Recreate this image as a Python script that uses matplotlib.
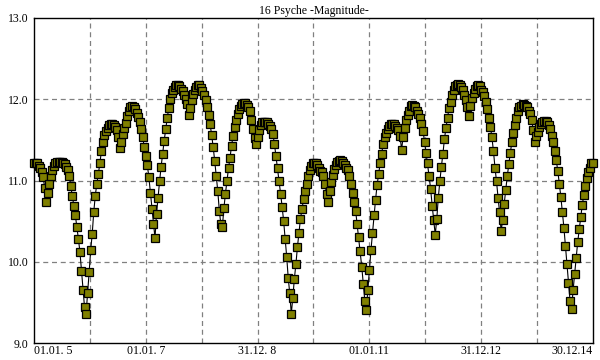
import numpy as np
import pandas as pd
import matplotlib
matplotlib.use("Agg")
import matplotlib.pyplot as plt
import matplotlib.dates as mdates

# magnitude of 16 Psyche, one reading every 10 days from 01.01.2005
mag = [
    11.22, 11.22, 11.21, 11.18, 11.15, 11.10, 11.04, 10.91, 10.74, 10.85,
    10.96, 11.05, 11.13, 11.18, 11.21, 11.23, 11.23, 11.23, 11.23, 11.21,
    11.20, 11.17, 11.13, 11.06, 10.93, 10.81, 10.69, 10.57, 10.43, 10.28,
    10.12, 9.89, 9.65, 9.44, 9.36, 9.61, 9.87, 10.14, 10.34, 10.61,
    10.81, 10.96, 11.08, 11.21, 11.36, 11.48, 11.56, 11.61, 11.65, 11.68,
    11.69, 11.69, 11.68, 11.66, 11.62, 11.53, 11.40, 11.47, 11.57, 11.65,
    11.71, 11.79, 11.86, 11.90, 11.92, 11.91, 11.88, 11.83, 11.78, 11.72,
    11.63, 11.53, 11.41, 11.30, 11.19, 11.04, 10.85, 10.65, 10.46, 10.29,
    10.59, 10.79, 10.99, 11.17, 11.33, 11.49, 11.63, 11.77, 11.89, 12.00,
    12.08, 12.12, 12.15, 12.17, 12.17, 12.16, 12.13, 12.10, 12.05, 12.00,
    11.94, 11.81, 11.89, 11.99, 12.07, 12.12, 12.15, 12.17, 12.17, 12.14,
    12.10, 12.05, 11.99, 11.90, 11.81, 11.69, 11.56, 11.41, 11.24, 11.05,
    10.87, 10.63, 10.46, 10.43, 10.66, 10.84, 11.00, 11.15, 11.28, 11.43,
    11.55, 11.66, 11.75, 11.82, 11.88, 11.92, 11.94, 11.95, 11.95, 11.93,
    11.90, 11.86, 11.75, 11.64, 11.52, 11.45, 11.54, 11.62, 11.68, 11.72,
    11.72, 11.72, 11.72, 11.70, 11.67, 11.63, 11.57, 11.45, 11.30, 11.15,
    11.00, 10.84, 10.68, 10.50, 10.28, 10.06, 9.80, 9.61, 9.36, 9.56,
    9.79, 9.97, 10.18, 10.36, 10.53, 10.65, 10.77, 10.87, 10.96, 11.06,
    11.13, 11.18, 11.21, 11.22, 11.22, 11.19, 11.15, 11.12, 11.10, 11.05,
    10.96, 10.84, 10.74, 10.87, 10.98, 11.07, 11.14, 11.19, 11.23, 11.24,
    11.25, 11.24, 11.22, 11.19, 11.16, 11.13, 11.05, 10.96, 10.85, 10.74,
    10.63, 10.46, 10.30, 10.13, 9.94, 9.73, 9.52, 9.41, 9.65, 9.90,
    10.14, 10.35, 10.57, 10.76, 10.94, 11.08, 11.21, 11.33, 11.45, 11.53,
    11.59, 11.63, 11.67, 11.69, 11.70, 11.69, 11.67, 11.65, 11.62, 11.55,
    11.38, 11.53, 11.65, 11.74, 11.81, 11.86, 11.92, 11.93, 11.92, 11.90,
    11.86, 11.82, 11.77, 11.69, 11.61, 11.48, 11.34, 11.21, 11.05, 10.89,
    10.69, 10.51, 10.33, 10.53, 10.79, 10.99, 11.17, 11.33, 11.51, 11.65,
    11.77, 11.89, 11.97, 12.05, 12.12, 12.16, 12.18, 12.19, 12.18, 12.15,
    12.11, 12.05, 11.99, 11.90, 11.79, 11.92, 12.02, 12.08, 12.13, 12.16,
    12.17, 12.16, 12.12, 12.09, 12.04, 11.97, 11.88, 11.77, 11.66, 11.53,
    11.36, 11.16, 10.99, 10.79, 10.61, 10.38, 10.51, 10.71, 10.88, 11.05,
    11.20, 11.34, 11.47, 11.58, 11.68, 11.77, 11.85, 11.90, 11.92, 11.94,
    11.93, 11.92, 11.90, 11.86, 11.82, 11.74, 11.62, 11.48, 11.55, 11.60,
    11.66, 11.69, 11.72, 11.73, 11.73, 11.72, 11.68, 11.63, 11.55, 11.47,
    11.36, 11.25, 11.12, 10.96, 10.80, 10.61, 10.42, 10.20, 9.97, 9.74,
    9.52, 9.42, 9.65, 9.85, 10.05, 10.24, 10.40, 10.55, 10.70, 10.82,
    10.93, 11.03, 11.10, 11.16, 11.21, 11.22,
]
dates = pd.date_range("2005-01-01", periods=len(mag), freq="10D")

start = pd.Timestamp("2005-01-01")
end = pd.Timestamp("2014-12-30")
tick_labels = ["01.01. 5", "01.01. 7", "31.12. 8", "01.01.11", "31.12.12", "30.12.14"]
y_ticks = [9.0, 10.0, 11.0, 12.0, 13.0]

plt.rcParams['font.family'] = ['Liberation Serif', 'DejaVu Serif']

fig = plt.figure(figsize=(6, 3.6), dpi=100)
ax = fig.add_axes([34/600, 17/360, 559/600, 325/360])

ax.plot(dates, mag, color='black', lw=0.8, marker='s', ms=5.8,
        mfc='#808000', mec='black', mew=0.9, clip_on=False, zorder=3)

x0, x1 = mdates.date2num(start), mdates.date2num(end)
ax.set_xlim(x0, x1)
ax.set_ylim(9.0, 13.0)

# grid: every year, dashed grey
for gx in np.linspace(x0, x1, 11)[1:-1]:
    ax.axvline(gx, color='#808080', lw=0.9, ls=(0, (4, 3)), zorder=1)
for gy in y_ticks[1:-1]:
    ax.axhline(gy, color='#808080', lw=0.9, ls=(0, (4, 3)), zorder=1)

ax.set_xticks(np.linspace(x0, x1, 6))
ax.set_xticklabels(tick_labels)
labs = ax.get_xticklabels()
labs[0].set_ha('left')
labs[-1].set_ha('right')
ax.set_yticks(y_ticks)
ax.set_yticklabels(["%.1f" % v for v in y_ticks])
ax.tick_params(length=0, labelsize=8.5)
ax.tick_params(axis='x', pad=1.5)
ax.tick_params(axis='y', pad=4)

for s in ax.spines.values():
    s.set_linewidth(1.0)

ax.set_title("16 Psyche -Magnitude-", fontsize=8.5, pad=3)

fig.savefig("out.png", dpi=100)
